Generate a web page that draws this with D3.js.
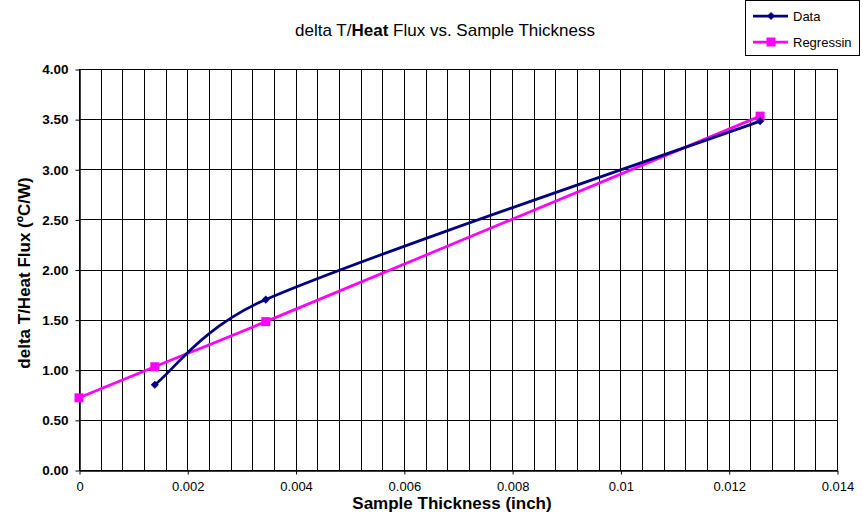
<!DOCTYPE html>
<html>
<head>
<meta charset="utf-8">
<script src="https://cdn.jsdelivr.net/npm/d3@7"></script>
<style>
    body { margin: 0; background: #fff; }
    text { font-family: Arial, "Liberation Sans", sans-serif; }
</style>
</head>
<body>
<div id="chart"></div>
<script>
// values
const dataX = [0.0014, 0.00345, 0.01258];
const dataY = [0.85, 1.70, 3.48];
const regX = [0, 0.0014, 0.00345, 0.01258];
const regY = [0.72, 1.03, 1.48, 3.53];
const xTicks = [0, 0.002, 0.004, 0.006, 0.008, 0.01, 0.012, 0.014];
const yTicks = [0, 0.5, 1, 1.5, 2, 2.5, 3, 3.5, 4];
const xGrid = d3.range(0, 36).map(i => i * 0.0004);

const W = 863, H = 514;
const plot = { left: 79, right: 837, top: 69, bottom: 470 };

const svg = d3.select("#chart").append("svg")
    .attr("width", W)
    .attr("height", H);

const x = d3.scaleLinear().domain([0, 0.014]).range([plot.left, plot.right]);
const y = d3.scaleLinear().domain([0, 4]).range([plot.bottom, plot.top]);

// vertical grid (minor unit 0.0004)
svg.append("g")
    .selectAll("line")
    .data(xGrid)
    .enter()
    .append("line")
    .attr("x1", d => Math.round(x(d)) + 0.5)
    .attr("x2", d => Math.round(x(d)) + 0.5)
    .attr("y1", plot.top)
    .attr("y2", plot.bottom)
    .attr("stroke", "#000")
    .attr("stroke-width", 1);

// horizontal grid
svg.append("g")
    .selectAll("line")
    .data(yTicks)
    .enter()
    .append("line")
    .attr("x1", plot.left)
    .attr("x2", plot.right)
    .attr("y1", d => Math.round(y(d)) + 0.5)
    .attr("y2", d => Math.round(y(d)) + 0.5)
    .attr("stroke", "#000")
    .attr("stroke-width", 1);

// axes
const xAxis = svg.append("g")
    .attr("transform", `translate(0.5, ${Math.round(y(0)) + 0.5})`)
    .call(d3.axisBottom(x).tickValues(xTicks).tickSize(4).tickSizeOuter(0).tickFormat(d => d === 0 ? "0" : String(+d.toFixed(3))));
xAxis.select(".domain").attr("stroke", "#000").attr("stroke-width", 1.5);
xAxis.selectAll(".tick line").attr("stroke", "#000");
xAxis.selectAll("text")
    .attr("y", 0)
    .attr("dy", 0)
    .attr("transform", "translate(0, 20.5)")
    .style("font-size", "13px")
    .style("font-family", "Arial, 'Liberation Sans', sans-serif")
    .attr("fill", "#000");

const yAxis = svg.append("g")
    .attr("transform", `translate(${plot.left + 0.5}, 0.5)`)
    .call(d3.axisLeft(y).tickValues(yTicks).tickSize(4).tickSizeOuter(0).tickFormat(d3.format(".2f")));
yAxis.select(".domain").attr("stroke", "#000").attr("stroke-width", 1.5);
yAxis.selectAll(".tick line").attr("stroke", "#000");
yAxis.selectAll("text")
    .attr("x", -11)
    .style("font-size", "13.5px")
    .style("font-weight", "bold")
    .style("font-family", "Arial, 'Liberation Sans', sans-serif")
    .attr("fill", "#000");

// Excel-like smoothed line: cubic Bezier, control arms 1/6 of the neighbour chord,
// capped at half the segment length
function smoothPath(pts) {
    const p = pts.map(d => [x(d[0]), y(d[1])]);
    const path = d3.path();
    path.moveTo(p[0][0], p[0][1]);
    for (let i = 0; i < p.length - 1; i++) {
        const a = p[i], b = p[i + 1];
        const prev = p[i - 1] || a;
        const next = p[i + 2] || b;
        const seg = Math.hypot(b[0] - a[0], b[1] - a[1]);
        const v1 = [b[0] - prev[0], b[1] - prev[1]];
        const v2 = [next[0] - a[0], next[1] - a[1]];
        const l1 = Math.hypot(v1[0], v1[1]);
        const l2 = Math.hypot(v2[0], v2[1]);
        const f1 = Math.min(1 / 6, seg / 2 / l1);
        const f2 = Math.min(1 / 6, seg / 2 / l2);
        path.bezierCurveTo(
            a[0] + v1[0] * f1, a[1] + v1[1] * f1,
            b[0] - v2[0] * f2, b[1] - v2[1] * f2,
            b[0], b[1]);
    }
    return path.toString();
}

const regPts = regX.map((v, i) => [v, regY[i]]);
const dataPts = dataX.map((v, i) => [v, dataY[i]]);

svg.append("path")
    .attr("d", smoothPath(regPts))
    .attr("fill", "none")
    .attr("stroke", "#ff00ff")
    .attr("stroke-width", 2.75);

svg.append("path")
    .attr("d", smoothPath(dataPts))
    .attr("fill", "none")
    .attr("stroke", "#000080")
    .attr("stroke-width", 2.75);

svg.selectAll(".sq")
    .data(regPts)
    .enter()
    .append("rect")
    .attr("class", "sq")
    .attr("x", d => x(d[0]) - 4.5)
    .attr("y", d => y(d[1]) - 4.5)
    .attr("width", 9)
    .attr("height", 9)
    .attr("fill", "#ff00ff");

const diamond = d3.symbol().type(d3.symbolDiamond2).size(42);
svg.selectAll(".dm")
    .data(dataPts)
    .enter()
    .append("path")
    .attr("class", "dm")
    .attr("d", diamond)
    .attr("transform", d => `translate(${x(d[0])}, ${y(d[1])})`)
    .attr("fill", "#000080");

// title
const title = svg.append("text")
    .attr("x", 445)
    .attr("y", 36)
    .attr("text-anchor", "middle")
    .style("font-size", "17px")
    .attr("fill", "#000");
title.append("tspan").text("delta T/");
title.append("tspan").style("font-weight", "bold").text("Heat");
title.append("tspan").text(" Flux vs. Sample Thickness");

// axis titles
svg.append("text")
    .attr("x", 452)
    .attr("y", 509)
    .attr("text-anchor", "middle")
    .style("font-size", "17px")
    .style("font-weight", "bold")
    .text("Sample Thickness (inch)");

svg.append("text")
    .attr("transform", `translate(30, 273) rotate(-90)`)
    .attr("text-anchor", "middle")
    .style("font-size", "17px")
    .style("font-weight", "bold")
    .text("delta T/Heat Flux (ºC/W)");

// legend
const legend = svg.append("g");
legend.append("rect")
    .attr("x", 745.5)
    .attr("y", 0.5)
    .attr("width", 114)
    .attr("height", 55)
    .attr("fill", "#fff")
    .attr("stroke", "#000");

const legendItems = [
    { label: "Data", color: "#000080", shape: "diamond", cy: 16 },
    { label: "Regressin", color: "#ff00ff", shape: "square", cy: 42 }
];

legendItems.forEach(item => {
    legend.append("line")
        .attr("x1", 753).attr("x2", 788)
        .attr("y1", item.cy).attr("y2", item.cy)
        .attr("stroke", item.color)
        .attr("stroke-width", 2.75);
    if (item.shape === "diamond") {
        legend.append("path")
            .attr("d", diamond)
            .attr("transform", `translate(771, ${item.cy})`)
            .attr("fill", item.color);
    } else {
        legend.append("rect")
            .attr("x", 766.5).attr("y", item.cy - 4.5)
            .attr("width", 9).attr("height", 9)
            .attr("fill", item.color);
    }
    legend.append("text")
        .attr("x", 793)
        .attr("y", item.cy + 4.5)
        .style("font-size", "13px")
        .text(item.label);
});
</script>
</body>
</html>
